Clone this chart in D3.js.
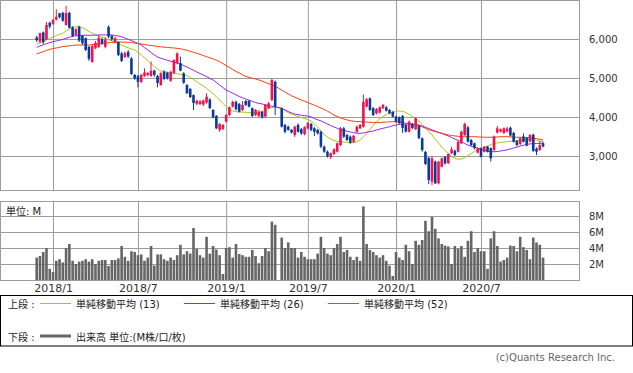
<!DOCTYPE html>
<html>
<head>
<meta charset="utf-8">
<script src="https://cdn.jsdelivr.net/npm/d3@7"></script>
<style>
  body { margin: 0; background: #fff; }
  svg { display: block; }
</style>
</head>
<body>
<div id="chart"></div>
<script>
// weekly bars, index 0 = week of 2017-11-27, index 74 = Golden Week 2019 (no trading)
const openPrice = [6040,5930,6170,5990,6420,6390,6500,6660,6670,6360,
  6670,6300,6100,6310,6080,6020,5800,5410,5760,5800,
  5990,5800,6310,6080,5920,5920,5630,5540,5670,5500,
  5080,5050,4900,5050,5080,5050,5190,5050,4820,5160,
  5130,4930,5130,5380,5380,5120,4820,4720,4560,4340,
  4330,4320,4370,4450,4180,4030,3670,3690,3880,4050,
  4265,4390,4335,4180,4410,4410,4225,4050,4025,4135,
  4010,4225,4435,4905,null,4220,3800,3750,3670,3540,
  3795,3690,3560,3710,3820,3710,3670,3620,3240,3110,
  2970,3050,3110,3280,3710,3540,3495,3365,3620,3710,
  3750,4265,4480,4225,4095,4110,4225,4250,4180,4130,
  4010,3990,4025,3795,3625,3820,3685,3770,3455,3105,
  2950,2340,2855,2300,2725,2975,2815,3070,3135,3110,
  3325,3540,3735,3410,3325,3085,3200,3110,3240,3200,
  3155,3600,3625,3590,3625,3725,3590,3385,3310,3500,
  3460,3370,3545,3190,3155,3325];

const highPrice = [6080,6160,6190,6440,6440,6510,6760,6670,6700,6850,
  6700,6330,6280,6340,6100,6040,5820,5870,5950,6100,
  6030,6050,6350,6100,6060,5940,5670,5680,5720,5540,
  5100,5080,5100,5250,5150,5420,5210,5080,5150,5200,
  5160,5180,5480,5660,5550,5150,4840,4740,4580,4440,
  4440,4450,4610,4480,4200,4050,3845,3820,4075,4270,
  4420,4420,4360,4410,4435,4435,4245,4205,4180,4155,
  4335,4385,4975,4935,null,4250,3820,3780,3690,3780,
  3840,3720,3760,3870,3850,3740,3690,3650,3270,3140,
  3090,3200,3345,3745,3745,3565,3525,3540,3780,3820,
  4580,4490,4500,4255,4230,4270,4335,4280,4205,4155,
  4040,4015,4050,3820,3910,3845,3990,3795,3475,3130,
  2975,3000,2885,2870,2960,3000,3065,3240,3165,3385,
  3655,3860,3770,3435,3345,3220,3220,3255,3255,3220,
  3525,3770,3705,3730,3745,3755,3615,3410,3485,3580,
  3485,3565,3575,3220,3385,3365];

const lowPrice = [5920,5900,5870,5970,6270,6360,6470,6530,6440,6340,
  6270,6050,6080,5920,5850,5690,5440,5390,5740,5770,
  5850,5760,6020,5950,5890,5560,5410,5510,5510,5080,
  4950,4760,4870,5030,5040,5030,5030,4760,4800,4940,
  4960,4900,5100,5350,5170,4850,4590,4490,4180,4300,
  4310,4280,4340,4200,3970,3690,3620,3665,3860,4025,
  4245,4165,4115,4155,4280,4245,4000,4025,4000,3960,
  3985,4205,4410,4050,null,3730,3580,3650,3580,3490,
  3600,3540,3530,3680,3630,3510,3550,3200,3080,2960,
  2920,3025,3090,3255,3460,3385,3310,3335,3600,3690,
  3730,4245,4155,4025,4065,4090,4205,4140,4075,3985,
  3860,3820,3590,3600,3600,3690,3665,3435,3110,2770,
  2280,2255,2280,2270,2705,2780,2795,3050,3000,3090,
  3310,3515,3345,3255,3170,3065,2960,3090,3090,2855,
  3130,3575,3605,3565,3605,3500,3345,3255,3280,3345,
  3245,3345,3105,3025,3130,3220];

const closePrice = [5970,6150,5920,6360,6320,6490,6570,6560,6470,6670,
  6290,6080,6250,5960,5890,5720,5490,5820,5900,6030,
  5890,5980,6060,6000,6020,5590,5440,5640,5550,5100,
  4990,4900,5080,5140,5130,5190,5080,4870,5120,4980,
  4990,5160,5460,5630,5190,4880,4610,4510,4360,4420,
  4400,4420,4520,4230,3990,3710,3820,3795,4050,4250,
  4390,4200,4135,4310,4310,4265,4025,4180,4135,3990,
  4310,4350,4950,4265,null,3750,3620,3670,3600,3750,
  3620,3580,3740,3840,3670,3620,3580,3240,3110,2990,
  3070,3170,3325,3710,3495,3410,3340,3515,3750,3795,
  4390,4455,4180,4050,4200,4250,4310,4160,4095,4010,
  3880,3845,3720,3625,3880,3720,3965,3455,3155,2795,
  2385,2940,2300,2855,2940,2810,3050,3170,3025,3365,
  3620,3820,3365,3280,3200,3200,2980,3240,3110,2940,
  3495,3710,3685,3710,3705,3525,3365,3280,3455,3365,
  3270,3540,3130,3110,3280,3245];

// volume in millions of shares
const volume = [2.8,3.0,3.5,4.0,1.4,1.0,2.4,2.6,2.2,4.0,
  4.5,2.4,2.0,2.3,2.4,2.6,2.3,2.6,2.0,2.4,
  2.5,2.5,1.75,2.5,2.5,2.7,4.25,2.9,2.4,3.6,
  3.5,3.1,3.2,2.4,2.8,4.25,1.8,3.2,3.2,2.6,
  2.4,2.8,2.5,3.1,4.4,3.2,3.6,3.3,6.5,3.9,
  3.1,2.8,5.4,3.3,4.25,3.8,3.1,0.75,4.0,4.1,
  2.8,4.5,3.25,3.1,2.9,2.9,3.75,3.0,2.1,3.0,
  4.0,3.6,7.3,6.9,null,5.3,4.0,4.7,4.0,4.0,
  2.8,3.5,2.9,2.6,2.6,2.6,3.3,5.4,4.0,3.3,
  3.1,4.0,4.5,5.4,3.5,3.75,2.9,2.5,2.9,2.4,
  9.2,4.5,3.75,3.5,3.1,2.8,3.1,2.4,1.8,0.5,
  3.5,2.8,2.5,4.4,3.6,2.0,4.9,4.4,5.0,7.4,
  6.1,7.9,6.4,5.2,4.5,4.3,4.2,2.0,4.25,3.9,
  4.25,2.9,4.9,6.1,3.5,4.0,3.6,3.6,1.4,5.2,
  6.1,4.25,2.3,2.5,2.8,4.3,4.25,3.6,5.4,4.1,
  3.75,2.6,5.3,4.7,4.4,2.8];

// simple moving averages as shown on the chart
const sma13 = [5870,5895,5925,5975,6020,6050,6090,6120,6145,6205,
  6255,6300,6315,6315,6285,6250,6195,6150,6105,6070,
  6045,6020,5985,5955,5920,5880,5840,5810,5775,5745,
  5720,5655,5590,5520,5450,5370,5295,5230,5180,5160,
  5145,5130,5115,5105,5095,5080,5065,5015,4960,4905,
  4845,4795,4735,4665,4595,4520,4435,4350,4265,4180,
  4155,4135,4130,4125,4120,4115,4105,4095,4115,4140,
  4180,4220,4245,4250,null,4220,4165,4110,4075,4040,
  4015,3985,3960,3935,3900,3820,3745,3640,3550,3485,
  3435,3400,3375,3365,3360,3350,3345,3340,3360,3410,
  3485,3580,3680,3780,3880,3950,4010,4065,4095,4120,
  4140,4155,4145,4115,4065,4015,3960,3900,3810,3720,
  3630,3540,3435,3335,3230,3140,3065,2985,2940,2915,
  2925,2960,3015,3065,3115,3155,3185,3225,3255,3295,
  3320,3335,3345,3360,3365,3375,3380,3390,3400,3410,
  3420,3430,3420,3405,3385,3370];

const sma26 = [5785,5820,5850,5880,5905,5930,5950,5970,5990,6020,
  6045,6065,6085,6090,6095,6095,6095,6095,6100,6105,
  6105,6105,6105,6105,6090,6075,6060,6025,5990,5960,
  5925,5885,5845,5780,5720,5655,5590,5540,5505,5480,
  5455,5430,5405,5385,5360,5320,5280,5240,5200,5155,
  5115,5075,5035,4990,4950,4885,4820,4755,4690,4650,
  4610,4565,4525,4495,4460,4430,4400,4370,4350,4335,
  4310,4290,4275,4265,null,4220,4180,4140,4105,4075,
  4060,4045,4035,4025,4000,3960,3930,3900,3860,3820,
  3780,3745,3710,3680,3655,3635,3615,3600,3585,3580,
  3590,3610,3625,3640,3665,3690,3710,3730,3750,3775,
  3795,3810,3815,3820,3820,3815,3805,3795,3770,3735,
  3705,3670,3640,3610,3580,3545,3515,3475,3435,3400,
  3360,3320,3280,3250,3225,3200,3170,3145,3120,3110,
  3110,3115,3130,3140,3160,3180,3205,3230,3255,3275,
  3295,3310,3315,3320,3325,3325];

const sma52 = [5615,5645,5675,5710,5735,5755,5770,5785,5805,5815,
  5825,5835,5845,5845,5845,5845,5845,5855,5865,5875,
  5885,5895,5905,5910,5915,5920,5920,5920,5915,5910,
  5895,5885,5870,5860,5845,5835,5820,5810,5800,5790,
  5785,5775,5770,5760,5750,5730,5710,5685,5660,5635,
  5605,5575,5545,5520,5490,5455,5420,5370,5320,5270,
  5220,5170,5130,5080,5040,5015,4990,4975,4950,4920,
  4885,4855,4820,4790,null,4690,4640,4590,4545,4510,
  4470,4435,4405,4370,4335,4300,4270,4230,4190,4150,
  4105,4050,4015,3975,3950,3925,3905,3890,3885,3880,
  3875,3870,3865,3860,3855,3860,3865,3870,3875,3880,
  3875,3865,3855,3840,3835,3815,3795,3770,3745,3715,
  3680,3650,3625,3600,3580,3560,3540,3525,3515,3505,
  3495,3495,3495,3495,3495,3490,3485,3480,3480,3480,
  3485,3490,3495,3495,3495,3490,3485,3480,3480,3475,
  3475,3470,3460,3445,3430,3410];

const priceTicks = [3000, 4000, 5000, 6000];
const volumeTicks = [2, 4, 6, 8];
const monthWeeks = [5, 31, 58, 83, 110, 136];
const monthLabels = ['2018/1', '2018/7', '2019/1', '2019/7', '2020/1', '2020/7'];

const legendItems = [
  {label: '単純移動平均 (13)', color: '#a3c814', x: 40},
  {label: '単純移動平均 (26)', color: '#9b22ee', x: 184},
  {label: '単純移動平均 (52)', color: '#ff3d0a', x: 328}
];

const upColor = '#f2124c';
const downColor = '#0a3a9c';
const gridColor = '#9c9c9c';
// latin glyphs from DejaVu, kanji fall through to the CJK font
const mixedFont = "'DejaVu Sans', 'Noto Sans CJK JP', sans-serif";

const width = 633, height = 373;
const plotRight = 579;

const svg = d3.select('#chart').append('svg')
  .attr('width', width)
  .attr('height', height)
  .style('font-family', "'DejaVu Sans', sans-serif");

// scales: x is the week index
const x = d3.scaleLinear().domain([-11.23, 166]).range([0, plotRight]);
const yPrice = d3.scaleLinear().domain([2128, 7000]).range([190, 0]);
const yVol = d3.scaleLinear().domain([0, 9.875]).range([280, 201]);

// grid lines, price panel
svg.append('g')
  .call(d3.axisLeft(yPrice).tickValues(priceTicks).tickSize(-plotRight).tickFormat(''))
  .call(g => g.select('.domain').remove())
  .selectAll('line').attr('stroke', gridColor);

svg.append('g')
  .attr('transform', 'translate(0,190)')
  .call(d3.axisBottom(x).tickValues(monthWeeks).tickSize(-190).tickFormat(''))
  .call(g => g.select('.domain').remove())
  .selectAll('line').attr('stroke', gridColor);

// grid lines, volume panel
svg.append('g')
  .call(d3.axisLeft(yVol).tickValues(volumeTicks).tickSize(-plotRight).tickFormat(''))
  .call(g => g.select('.domain').remove())
  .selectAll('line').attr('stroke', gridColor);

svg.append('g')
  .attr('transform', 'translate(0,280)')
  .call(d3.axisBottom(x).tickValues(monthWeeks).tickSize(-79).tickFormat(''))
  .call(g => g.select('.domain').remove())
  .selectAll('line').attr('stroke', gridColor);

// panel frames
svg.append('rect').attr('x', 0.5).attr('y', 0.5).attr('width', plotRight).attr('height', 190)
  .attr('fill', 'none').attr('stroke', gridColor);
svg.append('rect').attr('x', 0.5).attr('y', 201.5).attr('width', plotRight).attr('height', 79)
  .attr('fill', 'none').attr('stroke', gridColor);

// right axis labels
svg.append('g')
  .attr('transform', `translate(${plotRight},0)`)
  .call(d3.axisRight(yPrice).tickValues(priceTicks).tickSize(0).tickPadding(10).tickFormat(d3.format(',')))
  .call(g => g.select('.domain').remove())
  .selectAll('text').attr('fill', '#333').style('font-size', '10px').style('font-family', "'DejaVu Sans', sans-serif");

svg.append('g')
  .attr('transform', `translate(${plotRight},0)`)
  .call(d3.axisRight(yVol).tickValues(volumeTicks).tickSize(0).tickPadding(10).tickFormat(d => d + 'M'))
  .call(g => g.select('.domain').remove())
  .selectAll('text').attr('fill', '#333').style('font-size', '10px').style('font-family', "'DejaVu Sans', sans-serif");

// month labels under the volume panel
svg.append('g')
  .attr('transform', 'translate(0,280)')
  .call(d3.axisBottom(x).tickValues(monthWeeks).tickSize(0).tickPadding(4)
    .tickFormat((d, i) => monthLabels[i]))
  .call(g => g.select('.domain').remove())
  .selectAll('text').attr('fill', '#333').style('font-size', '11px').style('font-family', "'DejaVu Sans', sans-serif");

// bar table built from the arrays
const bars = closePrice.map((c, i) => ({
  i: i, o: openPrice[i], h: highPrice[i], l: lowPrice[i], c: c, v: volume[i]
})).filter(d => d.c !== null);

// volume bars
svg.append('g')
  .selectAll('rect')
  .data(bars)
  .enter()
  .append('rect')
  .attr('x', d => x(d.i) - 1.3)
  .attr('width', 2.6)
  .attr('y', d => yVol(d.v))
  .attr('height', d => yVol(0) - yVol(d.v))
  .attr('fill', '#666');

svg.append('text')
  .attr('x', 6).attr('y', 214.5)
  .style('font-family', mixedFont).style('font-size', '10px')
  .attr('fill', '#222')
  .text('単位: M');

// moving averages
const smaSeries = [sma13, sma26, sma52];
smaSeries.forEach(function (series, k) {
  const pts = series.map((v, i) => [i, v]).filter(p => p[1] !== null);
  svg.append('path')
    .datum(pts)
    .attr('fill', 'none')
    .attr('stroke', legendItems[k].color)
    .attr('stroke-width', 1)
    .attr('d', d3.line().x(p => x(p[0])).y(p => yPrice(p[1])));
});

// candles
const candle = svg.append('g')
  .selectAll('g')
  .data(bars)
  .enter()
  .append('g');

candle.append('line')
  .attr('x1', d => x(d.i)).attr('x2', d => x(d.i))
  .attr('y1', d => yPrice(d.h)).attr('y2', d => yPrice(d.l))
  .attr('stroke', d => d.c >= d.o ? upColor : downColor)
  .attr('stroke-width', 1);

candle.append('rect')
  .attr('x', d => x(d.i) - 1.3)
  .attr('width', 2.6)
  .attr('y', d => yPrice(Math.max(d.o, d.c)))
  .attr('height', d => Math.max(1, Math.abs(yPrice(d.o) - yPrice(d.c))))
  .attr('fill', d => d.c >= d.o ? upColor : downColor);

// legend box
svg.append('rect')
  .attr('x', 0.5).attr('y', 295.5).attr('width', 632).attr('height', 50.5)
  .attr('fill', 'none').attr('stroke', '#000');

const legend = svg.append('g')
  .style('font-family', mixedFont).style('font-size', '10px').attr('fill', '#222');

legend.append('text').attr('x', 8).attr('y', 307.5).text('上段 :');
legend.selectAll('.ma')
  .data(legendItems)
  .enter()
  .append('g')
  .attr('class', 'ma')
  .each(function (d) {
    const g = d3.select(this);
    g.append('line')
      .attr('x1', d.x).attr('x2', d.x + 31)
      .attr('y1', 303.5).attr('y2', 303.5)
      .attr('stroke', d.color).attr('stroke-width', 1);
    g.append('text').attr('x', d.x + 36).attr('y', 307.5).text(d.label);
  });

legend.append('text').attr('x', 8).attr('y', 340.5).text('下段 :');
legend.append('line')
  .attr('x1', 40).attr('x2', 71).attr('y1', 336).attr('y2', 336)
  .attr('stroke', '#666').attr('stroke-width', 3);
legend.append('text').attr('x', 76).attr('y', 340.5).text('出来高 単位:(M株/口/枚)');

// credit
svg.append('text')
  .attr('x', 615).attr('y', 361)
  .attr('text-anchor', 'end')
  .style('font-size', '10px')
  .attr('fill', '#666')
  .text('(c)Quants Research Inc.');
</script>
</body>
</html>
